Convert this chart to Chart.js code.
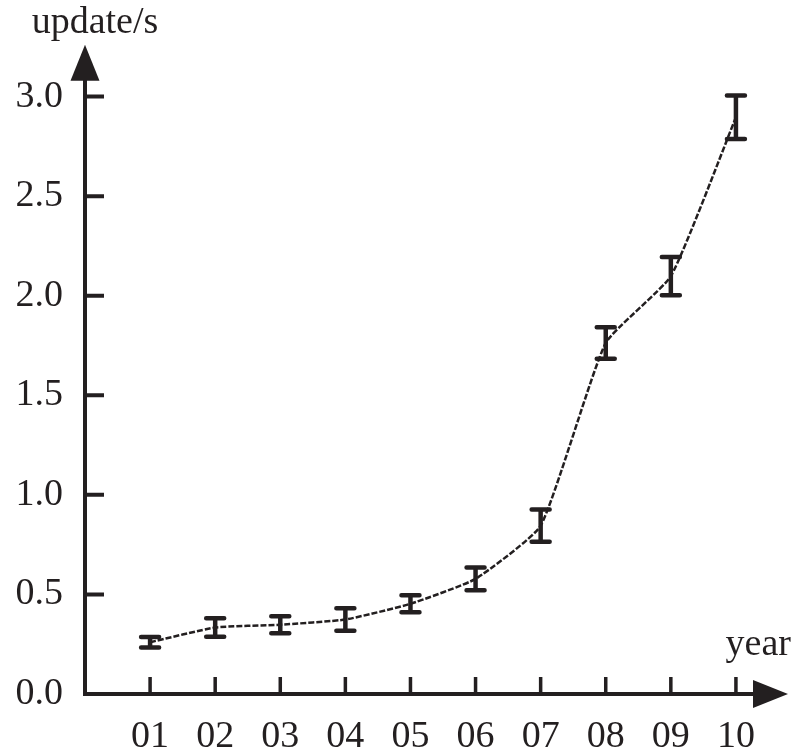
<!DOCTYPE html>
<html>
<head>
<meta charset="utf-8">
<script src="https://cdn.jsdelivr.net/npm/chart.js@4.4.0/dist/chart.umd.min.js"></script>
<style>
  html, body { margin: 0; padding: 0; background: #fff; }
  #wrap { width: 797px; height: 755px; }
</style>
</head>
<body>
<div id="wrap"><canvas id="updates"></canvas></div>
<script>
// year labels and measured update rate with its spread
const yearLabels = ['01', '02', '03', '04', '05', '06', '07', '08', '09', '10'];
const updateRate = [0.26, 0.334, 0.348, 0.374, 0.453, 0.578, 0.845, 1.763, 2.098, 2.896];
const updateErr  = [0.026, 0.046, 0.043, 0.056, 0.043, 0.057, 0.081, 0.079, 0.096, 0.109];
const yTicks = [0, 0.5, 1.0, 1.5, 2.0, 2.5, 3.0];

const ink = '#231f20';
const serif = '"Liberation Serif", "Times New Roman", serif';

const points = yearLabels.map((lab, i) => ({ x: i + 1, y: updateRate[i] }));

// axes with arrow heads, inward ticks, error bars and axis names
const axisDeco = {
  id: 'axisDeco',
  afterDatasetsDraw(chart) {
    const ctx = chart.ctx;
    const area = chart.chartArea;
    const xs = chart.scales.x, ys = chart.scales.y;
    ctx.save();
    ctx.strokeStyle = ink;
    ctx.fillStyle = ink;
    ctx.lineCap = 'butt';

    // error bars
    updateRate.forEach((v, i) => {
      const px = xs.getPixelForValue(i + 1);
      const top = ys.getPixelForValue(v + updateErr[i]);
      const bot = ys.getPixelForValue(v - updateErr[i]);
      ctx.lineWidth = 4.5;
      ctx.beginPath();
      ctx.moveTo(px, top); ctx.lineTo(px, bot);
      ctx.stroke();
      ctx.lineWidth = 4.5;
      ctx.lineCap = 'round';
      ctx.beginPath();
      ctx.moveTo(px - 9, top); ctx.lineTo(px + 9, top);
      ctx.moveTo(px - 9, bot); ctx.lineTo(px + 9, bot);
      ctx.stroke();
      ctx.lineCap = 'butt';
    });

    // axis lines
    ctx.lineWidth = 4;
    ctx.beginPath();
    ctx.moveTo(area.left, area.top + 30);
    ctx.lineTo(area.left, area.bottom);
    ctx.lineTo(area.right - 30, area.bottom);
    ctx.stroke();

    // arrow heads
    ctx.beginPath();
    ctx.moveTo(area.left, area.top);
    ctx.lineTo(area.left - 14.5, area.top + 36);
    ctx.lineTo(area.left + 14.5, area.top + 36);
    ctx.closePath();
    ctx.fill();
    ctx.beginPath();
    ctx.moveTo(area.right, area.bottom);
    ctx.lineTo(area.right - 35, area.bottom - 14);
    ctx.lineTo(area.right - 35, area.bottom + 14);
    ctx.closePath();
    ctx.fill();

    // inward ticks
    ctx.lineWidth = 4;
    ctx.beginPath();
    yTicks.forEach(t => {
      if (t === 0) return;
      const py = ys.getPixelForValue(t);
      ctx.moveTo(area.left, py); ctx.lineTo(area.left + 19, py);
    });
    ctx.stroke();
    ctx.lineWidth = 3.5;
    ctx.beginPath();
    yearLabels.forEach((lab, i) => {
      const px = xs.getPixelForValue(i + 1);
      ctx.moveTo(px, area.bottom); ctx.lineTo(px, area.bottom - 17);
    });
    ctx.stroke();

    // axis names
    ctx.font = '38px ' + serif;
    ctx.textBaseline = 'alphabetic';
    ctx.textAlign = 'center';
    ctx.fillText('update/s', area.left + 10, 33);
    ctx.textAlign = 'right';
    ctx.fillText('year', 791, 655);
    ctx.restore();
  }
};

new Chart(document.getElementById('updates'), {
  type: 'line',
  data: {
    datasets: [{
      data: points,
      borderColor: ink,
      borderWidth: 2.5,
      borderDash: [6, 2],
      pointRadius: 0,
      tension: 0.15,
      fill: false
    }]
  },
  options: {
    responsive: true,
    maintainAspectRatio: false,
    animation: false,
    events: [],
    layout: { padding: { top: 44, right: 9, left: 0, bottom: 0 } },
    plugins: { legend: { display: false }, tooltip: { enabled: false } },
    scales: {
      x: {
        type: 'linear',
        min: 0,
        max: 10.8,
        afterFit(scale) { scale.height = 61; },
        grid: { display: false, drawTicks: false },
        border: { display: false },
        ticks: {
          stepSize: 1,
          autoSkip: false,
          maxRotation: 0,
          includeBounds: false,
          padding: 20,
          color: ink,
          font: { family: serif, size: 38 },
          callback: v => yearLabels[v - 1] || ''
        }
      },
      y: {
        min: 0,
        max: 3.26,
        afterFit(scale) { scale.width = 85; },
        grid: { display: false, drawTicks: false },
        border: { display: false },
        ticks: {
          stepSize: 0.5,
          includeBounds: false,
          padding: 22,
          color: ink,
          font: { family: serif, size: 38 },
          callback: v => yTicks.includes(v) ? v.toFixed(1) : ''
        }
      }
    }
  },
  plugins: [axisDeco]
});
</script>
</body>
</html>
